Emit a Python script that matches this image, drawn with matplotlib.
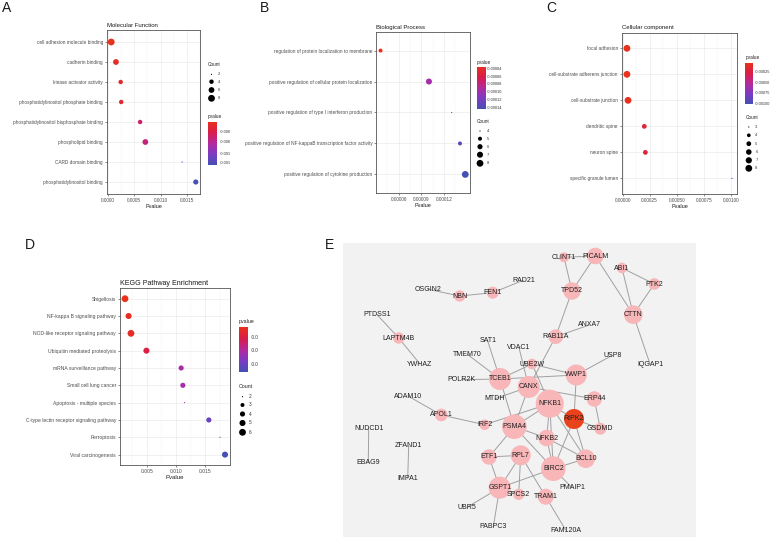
import numpy as np
import matplotlib
matplotlib.use("Agg")
import matplotlib.pyplot as plt
from matplotlib.colors import LinearSegmentedColormap, Normalize
from matplotlib.patches import Circle
from matplotlib.ticker import FixedLocator, FormatStrFormatter

plt.rcParams['font.family'] = ['Liberation Sans', 'DejaVu Sans']

# ---------------- data ----------------
mf_terms = ["cell adhesion molecule binding", "cadherin binding", "kinase activator activity",
            "phosphatidylinositol phosphate binding", "phosphatidylinositol bisphosphate binding",
            "phospholipid binding", "CARD domain binding", "phosphatidylinositol binding"]
mf_pvalue = [0.00006, 0.00015, 0.00024, 0.00025, 0.00061, 0.00071, 0.00141, 0.00167]
mf_count = [8, 6, 4, 4, 4, 6, 2, 5]
mf_xticks = [0.0, 0.0005, 0.0010, 0.0015]
mf_pv_labels = ["-0.000", "-0.000", "-0.001", "-0.001"]
mf_count_breaks = [2, 4, 6, 8]

bp_terms = ["regulation of protein localization to membrane",
            "positive regulation of cellular protein localization",
            "positive regulation of type I interferon production",
            "positive regulation of NF-kappaB transcription factor activity",
            "positive regulation of cytokine production"]
bp_pvalue = [0.000036, 0.000100, 0.000130, 0.000141, 0.000148]
bp_count = [5, 7, 4, 5, 8]
bp_xticks = [0.00006, 0.00009, 0.00012]
bp_pv_labels = ["-0.00004", "-0.00006", "-0.00008", "-0.00010", "-0.00012", "-0.00014"]
bp_count_breaks = [4, 5, 6, 7, 8]

cc_terms = ["focal adhesion", "cell-substrate adherens junction", "cell-substrate junction",
            "dendritic spine", "neuron spine", "specific granule lumen"]
cc_pvalue = [0.00004, 0.00004, 0.00005, 0.00020, 0.00021, 0.00101]
cc_count = [8, 8, 8, 5, 5, 3]
cc_xticks = [0.0, 0.00025, 0.0005, 0.00075, 0.001]
cc_pv_labels = ["-0.00025", "-0.00050", "-0.00075", "-0.00100"]
cc_count_breaks = [3, 4, 5, 6, 7, 8]

kegg_terms = ["Shigellosis", "NF-kappa B signaling pathway", "NOD-like receptor signaling pathway",
              "Ubiquitin mediated proteolysis", "mRNA surveillance pathway", "Small cell lung cancer",
              "Apoptosis - multiple species", "C-type lectin receptor signaling pathway",
              "Ferroptosis", "Viral carcinogenesis"]
kegg_pvalue = [0.00128, 0.00189, 0.00230, 0.00494, 0.01087, 0.01116, 0.01144, 0.01560, 0.01749, 0.01836]
kegg_count = [6, 5, 6, 5, 4, 4, 2, 4, 2, 5]
kegg_xticks = [0.005, 0.010, 0.015]
kegg_pv_labels = ["-0.0", "-0.0", "-0.0"]
kegg_count_breaks = [2, 3, 4, 5, 6]

genes = ["CLINT1", "PICALM", "ABI1", "PTK2", "TPD52", "CTTN", "RAD21", "OSGIN2", "NBN", "FEN1",
         "PTDSS1", "LAPTM4B", "YWHAZ", "ANXA7", "RAB11A", "SAT1", "VDAC1", "TMEM70", "USP8",
         "IQGAP1", "UBE2W", "TCEB1", "POLR2K", "WWP1", "CANX", "MTDH", "ADAM10", "NFKB1",
         "ERP44", "RIPK2", "APOL1", "IRF2", "PSMA4", "GSDMD", "NUDCD1", "NFKB2", "ZFAND1",
         "ETF1", "RPL7", "BCL10", "BIRC2", "EBAG9", "IMPA1", "PMAIP1", "GSPT1", "SPCS2",
         "TRAM1", "UBR5", "PABPC3", "FAM120A"]
edges = [("CLINT1", "PICALM"), ("CLINT1", "TPD52"), ("PICALM", "TPD52"), ("PICALM", "CTTN"),
         ("ABI1", "PTK2"), ("ABI1", "CTTN"), ("PTK2", "CTTN"), ("CTTN", "IQGAP1"),
         ("TPD52", "RAB11A"), ("RAB11A", "ANXA7"), ("RAB11A", "CANX"),
         ("RAD21", "FEN1"), ("FEN1", "NBN"), ("NBN", "OSGIN2"),
         ("PTDSS1", "LAPTM4B"), ("LAPTM4B", "YWHAZ"),
         ("SAT1", "TCEB1"), ("TMEM70", "TCEB1"), ("POLR2K", "TCEB1"), ("VDAC1", "CANX"),
         ("TCEB1", "UBE2W"), ("UBE2W", "WWP1"), ("TCEB1", "WWP1"), ("USP8", "WWP1"),
         ("WWP1", "RIPK2"), ("CANX", "ERP44"), ("MTDH", "CANX"), ("UBE2W", "NFKB1"),
         ("TCEB1", "PSMA4"), ("CANX", "PSMA4"), ("NFKB1", "PSMA4"),
         ("ADAM10", "APOL1"), ("APOL1", "IRF2"), ("IRF2", "NFKB1"),
         ("NFKB1", "NFKB2"), ("NFKB1", "RIPK2"), ("NFKB1", "BIRC2"), ("NFKB1", "BCL10"),
         ("RIPK2", "GSDMD"), ("ERP44", "GSDMD"), ("RIPK2", "BCL10"), ("RIPK2", "BIRC2"),
         ("NFKB2", "BCL10"), ("NFKB2", "BIRC2"), ("PSMA4", "NFKB2"), ("PSMA4", "BIRC2"),
         ("PSMA4", "ETF1"), ("BIRC2", "BCL10"), ("BIRC2", "GSPT1"), ("BIRC2", "PMAIP1"),
         ("ETF1", "RPL7"), ("ETF1", "GSPT1"), ("RPL7", "GSPT1"), ("RPL7", "SPCS2"),
         ("RPL7", "TRAM1"), ("GSPT1", "SPCS2"), ("GSPT1", "UBR5"), ("GSPT1", "PABPC3"),
         ("TRAM1", "FAM120A"), ("NUDCD1", "EBAG9"), ("ZFAND1", "IMPA1")]
hub_gene = "RIPK2"

# ---------------- layout (figure pixel coordinates) ----------------
node_pos = {
    'CLINT1': (564, 257.3), 'PICALM': (595.3, 256), 'ABI1': (622, 268), 'PTK2': (654.3, 284),
    'TPD52': (572, 291), 'CTTN': (633.3, 314.7), 'RAD21': (523.3, 280.3), 'OSGIN2': (428, 289.3),
    'NBN': (459.7, 296), 'FEN1': (492.7, 292.7), 'PTDSS1': (376.7, 314.3), 'LAPTM4B': (398.7, 338),
    'YWHAZ': (420, 364), 'ANXA7': (589.3, 325), 'RAB11A': (555.7, 336.7), 'SAT1': (487.7, 341),
    'VDAC1': (519, 347.7), 'TMEM70': (467.3, 354.3), 'USP8': (612.3, 355.3), 'IQGAP1': (650, 364),
    'UBE2W': (532, 364), 'TCEB1': (500, 379), 'POLR2K': (461.3, 379.7), 'WWP1': (576.3, 375),
    'CANX': (528.7, 387), 'MTDH': (495, 398.7), 'ADAM10': (408, 396), 'NFKB1': (549.7, 403.7),
    'ERP44': (594.3, 399), 'RIPK2': (574, 419), 'APOL1': (441.3, 415), 'IRF2': (484.7, 424.7),
    'PSMA4': (514.3, 426.7), 'GSDMD': (600.3, 428.7), 'NUDCD1': (368.7, 429), 'NFKB2': (546.7, 438),
    'ZFAND1': (408.7, 445.7), 'ETF1': (489, 457), 'RPL7': (520.7, 455.3), 'BCL10': (585.7, 458.7),
    'BIRC2': (553.3, 468.7), 'EBAG9': (368.3, 462.3), 'IMPA1': (407.7, 478.7), 'PMAIP1': (572, 487.7),
    'GSPT1': (499.7, 487.7), 'SPCS2': (518.7, 494.3), 'TRAM1': (545.7, 496.7), 'UBR5': (467, 507.3),
    'PABPC3': (493.3, 526.7), 'FAM120A': (565.7, 530)}
node_radius = {
    'CLINT1': 5, 'PICALM': 8.3, 'ABI1': 5.3, 'PTK2': 5.8, 'TPD52': 8.7, 'CTTN': 9.3, 'NBN': 5.7,
    'FEN1': 6, 'LAPTM4B': 5.7, 'RAB11A': 7.3, 'UBE2W': 5.3, 'TCEB1': 11, 'WWP1': 10.5, 'CANX': 11,
    'NFKB1': 14, 'ERP44': 7.7, 'RIPK2': 10, 'APOL1': 6.3, 'IRF2': 5.3, 'PSMA4': 12.3, 'GSDMD': 6,
    'NFKB2': 8.3, 'ETF1': 7.7, 'RPL7': 10, 'BCL10': 9.3, 'BIRC2': 12.3, 'GSPT1': 11, 'SPCS2': 5.7,
    'TRAM1': 8}

W, H = 777, 537
fig = plt.figure(figsize=(W / 100, H / 100), dpi=100)
fig.patch.set_facecolor('white')


def px_axes(x0, y0, x1, y1, **kw):
    return fig.add_axes([x0 / W, 1 - y1 / H, (x1 - x0) / W, (y1 - y0) / H], **kw)


cmap = LinearSegmentedColormap.from_list(
    'pv', ['#E8321E', '#DA1D48', '#B52A9C', '#7D3BC4', '#4650B4'])


def diam_px(c, cmin, cmax, dmin=1.2, dmax=6.8):
    t = (np.asarray(c, float) - cmin) / (cmax - cmin)
    return dmin + (dmax - dmin) * np.sqrt(t)


ov = fig.add_axes([0, 0, 1, 1], zorder=10)
ov.set_xlim(0, W)
ov.set_ylim(H, 0)
ov.axis('off')
ov.patch.set_alpha(0)


def dot_panel(box, terms, pvals, counts, xticks, fmt, title, title_fs=4.3, lab_fs=3.4, xl_fs=4.0):
    ax = px_axes(*box)
    n = len(terms)
    yy = np.arange(n)[::-1]
    p = np.asarray(pvals)
    c = np.asarray(counts)
    norm = Normalize(p.min(), p.max())
    d = diam_px(c, c.min(), c.max())
    ax.scatter(p, yy, s=(0.72 * d) ** 2, c=cmap(norm(p)), linewidths=0, zorder=3)
    span = p.max() - p.min()
    ax.set_xlim(p.min() - 0.05 * span, p.max() + 0.05 * span)
    ax.set_ylim(-0.6, n - 0.4)
    ax.set_yticks(yy)
    ax.set_yticklabels(terms)
    step = xticks[1] - xticks[0]
    ax.xaxis.set_major_locator(FixedLocator(xticks))
    minors = np.arange(xticks[0] - step / 2, xticks[-1] + step, step)
    ax.xaxis.set_minor_locator(FixedLocator(minors))
    ax.xaxis.set_major_formatter(FormatStrFormatter(fmt))
    ax.tick_params(which='minor', length=0)
    ax.tick_params(which='major', length=1.6, width=0.4, color='#333333',
                   labelsize=lab_fs, labelcolor='#4D4D4D', pad=1.2)
    ax.grid(which='major', color='#EBEBEB', lw=0.5)
    ax.grid(which='minor', axis='x', color='#F3F3F3', lw=0.35)
    ax.set_axisbelow(True)
    for s in ax.spines.values():
        s.set_color('#555555')
        s.set_linewidth(0.6)
    ax.set_title(title, loc='left', fontsize=title_fs, pad=2.5, color='#1a1a1a')
    ax.set_xlabel('Pvalue', fontsize=xl_fs, labelpad=1, color='#1a1a1a')
    return ax


def count_legend(x, y_title, breaks, ys, fs=3.4):
    ov.text(x, y_title, 'Count', fontsize=fs, va='center', ha='left', color='#222222')
    b = np.asarray(breaks)
    d = diam_px(b, b.min(), b.max())
    ov.scatter([x + 3.5] * len(b), ys, s=(0.72 * d) ** 2, c='black', linewidths=0)
    for yv, lab in zip(ys, breaks):
        ov.text(x + 10, yv, str(lab), fontsize=fs - 0.4, va='center', ha='left', color='#333333')


def color_legend(x0, y0, x1, y1, title_y, labels, label_ys, label_x, fs=3.4):
    ov.text(x0, title_y, 'pvalue', fontsize=fs, va='center', ha='left', color='#222222')
    cax = px_axes(x0, y0, x1, y1)
    cax.imshow(np.linspace(0, 1, 128)[:, None], cmap=cmap, aspect='auto')
    cax.axis('off')
    for ly, lab in zip(label_ys, labels):
        ov.text(label_x, ly, lab, fontsize=fs - 0.5, va='center', ha='left', color='#333333')


# Panel A
dot_panel((107, 30, 200, 194), mf_terms, mf_pvalue, mf_count, mf_xticks, '%.4f', 'Molecular Function')
count_legend(208, 65, mf_count_breaks, [74.3, 81.7, 90, 98.3])
color_legend(208, 121.7, 216.7, 165, 116.7, mf_pv_labels, [131.7, 141.7, 154, 163.3], 220)

# Panel B
dot_panel((376.3, 32, 469.5, 193), bp_terms, bp_pvalue, bp_count, bp_xticks, '%.5f', 'Biological Process')
color_legend(476.5, 66.7, 485, 109.3, 62.3, bp_pv_labels, [69, 76.7, 84.3, 92.3, 100, 107.7], 487)
count_legend(476.5, 121.7, bp_count_breaks, [131, 138.7, 146.7, 154.7, 163.3])

# Panel C
dot_panel((621.7, 32.7, 737.3, 194), cc_terms, cc_pvalue, cc_count, cc_xticks, '%.5f', 'Cellular component')
color_legend(745.3, 63.3, 752.7, 104.3, 58, cc_pv_labels, [72.3, 83.3, 93.3, 103.7], 755)
count_legend(745.3, 117.7, cc_count_breaks, [127, 135.3, 143.7, 152, 160.3, 168.3])

# Panel D
dot_panel((120, 288.3, 230, 465), kegg_terms, kegg_pvalue, kegg_count, kegg_xticks, '%.3f',
          'KEGG Pathway Enrichment', title_fs=5.1, lab_fs=3.6, xl_fs=4.3)
color_legend(239, 326.7, 247.3, 371.7, 321, kegg_pv_labels, [337.7, 350.7, 364.3], 250.5, fs=3.8)
count_legend(239, 386.7, kegg_count_breaks, [396.7, 405, 414, 423, 432.3], fs=3.8)

# Panel E network
nx0, ny0, nx1, ny1 = 342.7, 242.7, 695.7, 537
net = px_axes(nx0, ny0, nx1, ny1)
net.set_xlim(nx0, nx1)
net.set_ylim(ny1, ny0)
net.set_facecolor('#F2F2F2')
for s in net.spines.values():
    s.set_visible(False)
net.set_xticks([])
net.set_yticks([])
for a, b in edges:
    net.plot([node_pos[a][0], node_pos[b][0]], [node_pos[a][1], node_pos[b][1]],
             color='#A0A0A0', lw=0.7, zorder=1, solid_capstyle='round')
for g in genes:
    r = node_radius.get(g, 0)
    if r > 0:
        net.add_patch(Circle(node_pos[g], r, fc='#E8431C' if g == hub_gene else '#F8B6B8',
                             ec='none', zorder=2))
    net.text(node_pos[g][0], node_pos[g][1], g, fontsize=5, ha='center', va='center',
             zorder=3, color='#1F1F1F')

# Panel letters
for letter, (lx, ly) in zip("ABCDE", [(1.7, 11.7), (259.5, 11.7), (546, 12.3), (25, 249.3), (324.7, 249.3)]):
    ov.text(lx, ly, letter, fontsize=10, ha='left', va='baseline', color='#1a1a1a')

fig.savefig('out.png', dpi=100, facecolor='white')
